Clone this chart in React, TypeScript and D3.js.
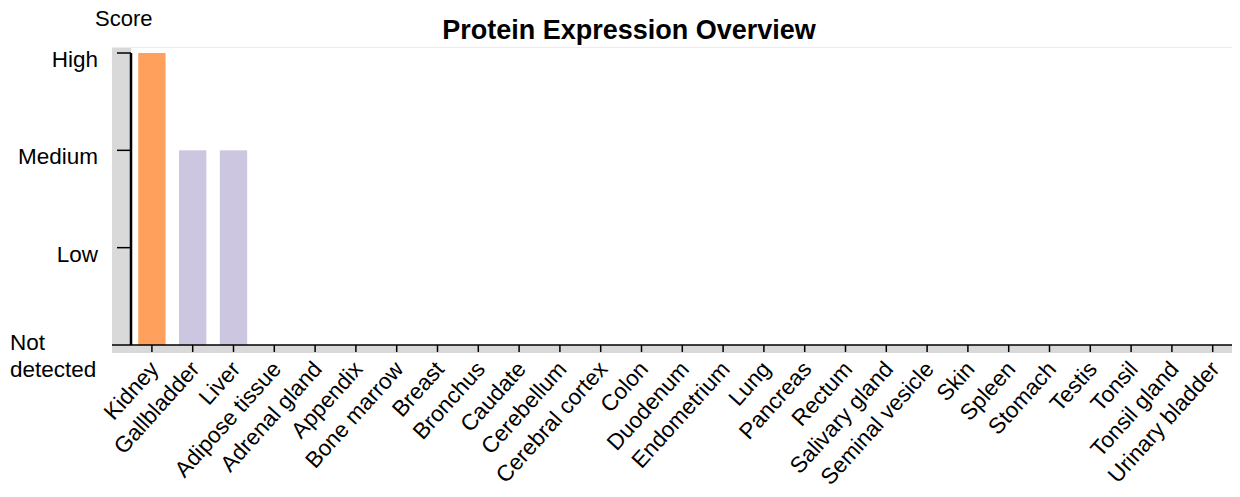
import React, { useEffect, useRef } from "react";
import * as d3 from "d3";

// ── Data ──────────────────────────────────────────────────────────────────────
const tissues = [
  "Kidney", "Gallbladder", "Liver", "Adipose tissue", "Adrenal gland", "Appendix",
  "Bone marrow", "Breast", "Bronchus", "Caudate", "Cerebellum", "Cerebral cortex",
  "Colon", "Duodenum", "Endometrium", "Lung", "Pancreas", "Rectum", "Salivary gland",
  "Seminal vesicle", "Skin", "Spleen", "Stomach", "Testis", "Tonsil", "Tonsil gland",
  "Urinary bladder",
];
// 0 = Not detected, 1 = Low, 2 = Medium, 3 = High
const scores = [3, 2, 2, 0, 0, 0, 0, 0, 0, 0, 0, 0, 0, 0, 0, 0, 0, 0, 0, 0, 0, 0, 0, 0, 0, 0, 0];
const levelLabels = ["Not detected", "Low", "Medium", "High"];

const W = 1240;
const H = 497;
const FONT = "'Liberation Sans', Arial, Helvetica, sans-serif";

const barColor = (s: number) => (s === 3 ? "#ffa15c" : "#cdc6e1");

export default function App() {
  const ref = useRef<SVGSVGElement>(null);

  useEffect(() => {
    const svg = d3.select(ref.current);
    svg.selectAll("*").remove();

    const x0 = 131.5;
    const x1 = x0 + tissues.length * 40.8;
    const yTop = 53;
    const yBot = 345;

    const x = d3.scaleBand<string>().domain(tissues).range([x0, x1]).paddingInner(0.33).paddingOuter(0.165);
    const y = d3.scaleLinear().domain([0, 3]).range([yBot, yTop]);

    // gray frame
    svg.append("rect").attr("x", 112).attr("y", 47).attr("width", 19).attr("height", yBot + 8 - 47).attr("fill", "#d9d9d9");
    svg.append("rect").attr("x", 112).attr("y", yBot).attr("width", W - 112).attr("height", 8).attr("fill", "#d9d9d9");
    svg.append("line").attr("x1", 112).attr("x2", W).attr("y1", 47.5).attr("y2", 47.5).attr("stroke", "#ececec");

    // bars
    svg.append("g")
      .selectAll("rect")
      .data(tissues.map((t, i) => ({ t, s: scores[i] })).filter((d) => d.s > 0))
      .join("rect")
      .attr("x", (d) => x(d.t)!)
      .attr("width", x.bandwidth())
      .attr("y", (d) => y(d.s))
      .attr("height", (d) => yBot - y(d.s))
      .attr("fill", (d) => barColor(d.s));

    // y axis
    svg.append("line").attr("x1", 131).attr("x2", 131).attr("y1", yTop).attr("y2", yBot).attr("stroke", "#000").attr("stroke-width", 2.5);
    const yt = svg.append("g");
    [1, 2, 3].forEach((v) => {
      yt.append("line").attr("x1", 117).attr("x2", 131).attr("y1", y(v)).attr("y2", y(v)).attr("stroke", "#000").attr("stroke-width", 1.5);
    });
    levelLabels.forEach((lab, v) => {
      if (v === 0) {
        const t = yt.append("text").attr("font-family", FONT).attr("font-size", 22.5).attr("fill", "#000");
        t.append("tspan").attr("x", 10).attr("y", 350).text("Not");
        t.append("tspan").attr("x", 10).attr("y", 377).text("detected");
      } else {
        yt.append("text")
          .attr("x", 98).attr("y", y(v) + 14)
          .attr("text-anchor", "end")
          .attr("font-family", FONT).attr("font-size", 22.5)
          .text(lab);
      }
    });

    // x axis
    svg.append("line").attr("x1", 112).attr("x2", W).attr("y1", yBot).attr("y2", yBot).attr("stroke", "#000").attr("stroke-width", 1.5);
    const xt = svg.append("g");
    tissues.forEach((t) => {
      const cx = x(t)! + x.bandwidth() / 2;
      xt.append("line").attr("x1", cx).attr("x2", cx).attr("y1", yBot).attr("y2", yBot + 7).attr("stroke", "#000").attr("stroke-width", 1.5);
      xt.append("text")
        .attr("transform", `translate(${cx + 8},${yBot + 25}) rotate(-48)`)
        .attr("text-anchor", "end")
        .attr("font-family", FONT)
        .attr("font-size", 22.5)
        .text(t);
    });

    // titles
    svg.append("text").attr("x", 629).attr("y", 39).attr("text-anchor", "middle")
      .attr("font-family", FONT).attr("font-size", 27).attr("font-weight", "bold").text("Protein Expression Overview");
    svg.append("text").attr("x", 95).attr("y", 26)
      .attr("font-family", FONT).attr("font-size", 22).text("Score");
  }, []);

  return (
    <div style={{ margin: -8 }}>
      <svg ref={ref} width={W} height={H} style={{ display: "block", background: "#fff" }} />
    </div>
  );
}
